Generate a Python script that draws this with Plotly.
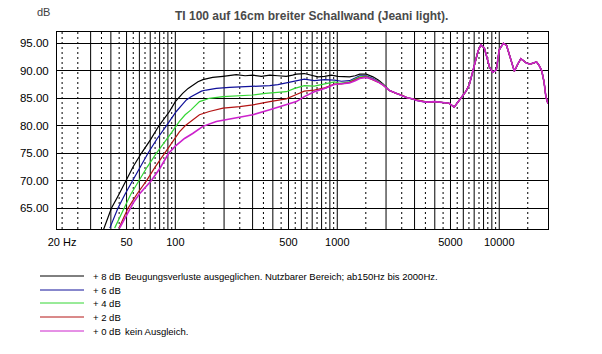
import plotly.graph_objects as go

# ---------------- data ----------------
title_text = "TI 100 auf 16cm breiter Schallwand (Jeani light)."
y_unit = "dB"

x_tick_vals = [20, 50, 100, 500, 1000, 5000, 10000]
x_tick_text = ["20 Hz", "50", "100", "500", "1000", "5000", "10000"]
y_tick_vals = [65, 70, 75, 80, 85, 90, 95]
y_tick_text = ["65.00", "70.00", "75.00", "80.00", "85.00", "90.00", "95.00"]

grid_solid = [30, 40, 50, 60, 70, 80, 90, 100, 200, 300, 400, 500, 600, 700, 800, 900,
              1000, 2000, 3000, 4000, 5000, 6000, 7000, 8000, 9000, 10000]
grid_dotted = [20, 25, 35, 45, 55, 65, 75, 85, 95, 150, 250, 350, 450, 550, 650, 750, 850, 950,
               1500, 2500, 3500, 4500, 5500, 6500, 7500, 8500, 9500, 15000]

# common high-frequency part (all curves coincide, magenta on top)
tail_f = [2100, 2306, 2500, 2700, 2900, 3100, 3400, 3600, 4000, 4500, 4900, 5270, 5650, 5900,
          6240, 6540, 7000, 7400, 7700, 8100, 8400, 8700, 9100, 9600, 10000, 10600, 11100,
          11800, 12400, 13000, 13600, 14700, 15500, 16200, 17000, 17600, 18300, 18900, 19400, 20000]
tail_db = [86.4, 85.9, 85.6, 85.1, 84.9, 84.6, 84.4, 84.3, 84.4, 84.3, 84.1, 83.4, 84.6, 85.2,
           86.3, 87.5, 91.0, 93.6, 94.7, 94.1, 92.4, 90.7, 89.7, 90.2, 93.8, 95.0, 94.6,
           92.0, 89.9, 91.2, 92.2, 91.4, 91.2, 91.4, 91.6, 91.0, 90.0, 88.0, 85.3, 84.0]

black_f = [36, 38, 40.3, 45, 49.3, 55, 61.7, 70, 79.2, 86, 92, 100, 111, 120, 128, 138, 148, 160,
           170, 197, 238, 270, 301, 340, 383, 430, 484, 530, 559, 626, 690, 760, 835, 918, 1010,
           1100, 1190, 1290, 1375, 1510, 1660, 1800, 1917]
black_db = [61.1, 63.0, 65.0, 67.6, 70.0, 72.6, 75.0, 77.4, 80.0, 81.4, 82.6, 84.4, 85.9, 86.8,
            87.4, 88.0, 88.4, 88.7, 88.8, 89.0, 89.3, 89.1, 89.2, 89.0, 89.2, 89.1, 89.0, 89.2,
            89.4, 89.5, 89.2, 88.9, 89.0, 89.2, 89.0, 88.9, 88.9, 89.1, 89.4, 89.4, 88.9, 88.3, 87.6]

blue_f = [39.4, 42, 44.2, 49, 54.7, 61, 67.8, 77, 88, 95, 101.4, 110, 117, 125, 135, 145, 155, 179,
          216, 260, 301, 340, 383, 430, 484, 546, 626, 721, 835, 959, 1060, 1190, 1290, 1375,
          1510, 1660, 1800, 1917]
blue_db = [61.4, 63.3, 65.0, 67.6, 70.0, 72.6, 75.0, 77.6, 80.0, 81.4, 82.6, 83.8, 84.7, 85.3,
           85.9, 86.3, 86.5, 86.8, 87.0, 87.1, 87.2, 87.2, 87.3, 87.5, 87.8, 88.2, 88.5, 88.2,
           88.4, 88.3, 88.1, 88.2, 88.7, 89.1, 89.1, 88.6, 88.0, 87.5]

green_f = [42.2, 45, 48, 53, 59.6, 67, 76.3, 86, 95, 106, 115, 125, 133, 141, 152, 162, 197, 250,
           301, 360, 420, 484, 546, 626, 721, 835, 959, 1033, 1190, 1290, 1375, 1510, 1660, 1800, 1917]
green_db = [61.4, 63.2, 65.0, 67.5, 70.0, 72.5, 75.0, 77.0, 78.8, 80.8, 82.0, 82.9, 83.7, 84.4,
            84.7, 85.0, 85.3, 85.4, 85.6, 85.9, 86.1, 86.2, 86.8, 87.3, 87.2, 87.6, 88.0, 87.7,
            88.0, 88.5, 88.9, 89.0, 88.5, 88.0, 87.5]

red_f = [44.9, 48, 51, 58, 66.3, 75, 86, 95, 106, 115, 125, 141, 162, 197, 250, 301, 383, 484,
         550, 626, 721, 835, 959, 1060, 1190, 1290, 1375, 1510, 1660, 1800, 1917]
red_db = [61.4, 63.3, 65.0, 67.6, 70.0, 72.5, 75.0, 77.0, 78.9, 80.0, 80.8, 82.0, 82.6, 83.2,
          83.5, 83.8, 84.4, 84.9, 85.6, 86.3, 86.5, 86.9, 87.6, 87.6, 87.9, 88.3, 88.7, 88.9,
          88.4, 87.9, 87.4]

magenta_f = [45.3, 48, 52, 55, 60, 65, 71, 80, 91, 100, 114, 128, 148, 179, 238, 301, 383, 484,
             559, 626, 721, 835, 959, 1033, 1190, 1290, 1375, 1510, 1660, 1800, 1917]
magenta_db = [61.4, 62.8, 64.8, 66.0, 67.6, 68.8, 70.0, 72.2, 75.0, 76.3, 77.7, 78.6, 79.9, 80.8,
              81.4, 82.0, 82.9, 83.8, 84.4, 85.3, 86.2, 86.8, 87.5, 87.6, 87.8, 88.2, 88.6,
              88.8, 88.4, 87.9, 87.4]

series_names = ["+ 8 dB", "+ 6 dB", "+ 4 dB", "+ 2 dB", "+ 0 dB"]
series_notes = ["Beugungsverluste ausgeglichen. Nutzbarer Bereich; ab150Hz bis 2000Hz.",
                "", "", "", "kein Ausgleich."]
series_f = [black_f, blue_f, green_f, red_f, magenta_f]
series_db = [black_db, blue_db, green_db, red_db, magenta_db]
series_colors = ["#000000", "#10109a", "#33d633", "#b41414", "#cc22cc"]
series_widths = [1.2, 1.2, 1.2, 1.2, 1.6]

# ---------------- figure ----------------
W, H = 602, 354
L, R, T, B = 57, 54, 32, 125
PW, PH = W - L - R, H - T - B
FONT = "Liberation Sans, Arial, sans-serif"


def px_x(x):
    return (x - L) / PW


def px_y(y):
    return (H - B - y) / PH


fig = go.Figure()
for f, db, name, col, w in zip(series_f, series_db, series_names, series_colors, series_widths):
    fig.add_trace(go.Scatter(x=f + tail_f, y=db + tail_db, mode="lines", name=name,
                             line=dict(color=col, width=w), showlegend=False))

shapes = []
for g in grid_solid:
    shapes.append(dict(type="line", xref="x", yref="paper", x0=g, x1=g, y0=0, y1=1,
                       line=dict(color="black", width=1), layer="below"))
for g in grid_dotted:
    shapes.append(dict(type="line", xref="x", yref="paper", x0=g, x1=g, y0=0, y1=1,
                       line=dict(color="black", width=1, dash="2px,3px"), layer="below"))

annotations = [
    dict(text="<b>" + title_text + "</b>", xref="paper", yref="paper", x=px_x(311), y=px_y(16),
         xanchor="center", yanchor="middle", showarrow=False,
         font=dict(family=FONT, size=12, color="#4a4a4a")),
    dict(text=y_unit, xref="paper", yref="paper", x=px_x(43), y=px_y(12),
         xanchor="center", yanchor="middle", showarrow=False,
         font=dict(family=FONT, size=11, color="#404040")),
]

row_y = [276, 290, 303, 317, 331]
for ry, name, note, col in zip(row_y, series_names, series_notes, series_colors):
    shapes.append(dict(type="line", xref="paper", yref="paper", x0=px_x(40), x1=px_x(84),
                       y0=px_y(ry), y1=px_y(ry), line=dict(color=col, width=1)))
    annotations.append(dict(text=name, xref="paper", yref="paper", x=px_x(91), y=px_y(ry),
                            xanchor="left", yanchor="middle", showarrow=False,
                            font=dict(family=FONT, size=9.5, color="black")))
    if note:
        annotations.append(dict(text=note, xref="paper", yref="paper", x=px_x(123), y=px_y(ry),
                                xanchor="left", yanchor="middle", showarrow=False,
                                font=dict(family=FONT, size=9.5, color="black")))

fig.update_layout(
    width=W, height=H,
    margin=dict(l=L, r=R, t=T, b=B, pad=0),
    paper_bgcolor="white", plot_bgcolor="white",
    shapes=shapes, annotations=annotations,
    showlegend=False,
    font=dict(family=FONT, size=11, color="black"),
    xaxis=dict(type="log", range=[1.2695, 4.30103], showgrid=False, zeroline=False,
               tickvals=x_tick_vals, ticktext=x_tick_text, ticks="",
               showline=True, mirror=True, linecolor="black", linewidth=1,
               tickfont=dict(family=FONT, size=11, color="black"), ticklabelstandoff=3),
    yaxis=dict(range=[61.24, 97.05], showgrid=True, gridcolor="black", gridwidth=1,
               zeroline=False, tickvals=y_tick_vals, ticktext=y_tick_text, ticks="",
               showline=True, mirror=True, linecolor="black", linewidth=1,
               tickfont=dict(family=FONT, size=11.5, color="black"), ticklabelstandoff=5),
)

fig.write_html("out.html")
